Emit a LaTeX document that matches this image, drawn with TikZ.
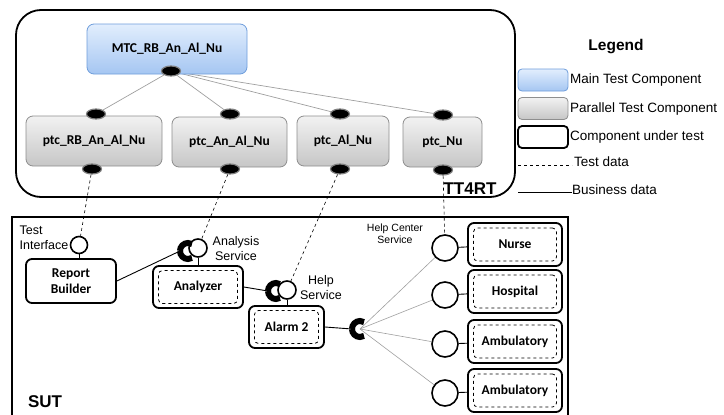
\documentclass[tikz,border=0pt]{standalone}
\usepackage{fontspec}
\setmainfont{Liberation Sans}
\newfontfamily\calib{Carlito}
\usetikzlibrary{shapes, positioning}
\usetikzlibrary{backgrounds}

\definecolor{mtcline}{HTML}{6E9DDB}
\definecolor{mtctop}{HTML}{E2EEFD}
\definecolor{mtcbot}{HTML}{A5C6F2}
\definecolor{ptcline}{HTML}{8E8E8E}
\definecolor{ptctop}{HTML}{F2F2F2}
\definecolor{ptcbot}{HTML}{C6C6C6}

\begin{document}
\begin{tikzpicture}[x=1pt, y=-1pt,
    boxfont/.style={font=\calib\bfseries\fontsize{13.5}{16}\selectfont},
    mtc/.style={draw=mtcline, top color=mtctop, bottom color=mtcbot, line width=0.8pt, rounded corners=7pt, minimum width=160pt, minimum height=50pt, boxfont},
    ptc/.style={draw=ptcline, top color=ptctop, bottom color=ptcbot, line width=0.8pt, rounded corners=7pt, minimum height=50pt, boxfont},
    port/.style={ellipse, fill=black, draw=gray, line width=1.2pt, minimum width=19pt, minimum height=10pt, inner sep=0pt},
    cut/.style={draw, fill=white, line width=1.8pt, rounded corners=6pt, align=center, boxfont},
    dashbox/.style={draw, dashed, line width=0.8pt, rounded corners=4pt, inner sep=0pt, boxfont},
    ball/.style={circle, draw, fill=white, line width=1.6pt, inner sep=0pt, minimum size=17pt},
    bigball/.style={ball, minimum size=26pt},
    socket/.style={line width=6pt},
    link/.style={gray!75, line width=0.7pt},
    testdata/.style={dashed, line width=0.6pt},
    business/.style={line width=0.9pt},
    lbl/.style={font=\fontsize{12.5}{15}\selectfont, align=center, inner sep=0pt},
    legtext/.style={font=\fontsize{13.5}{16}\selectfont, anchor=west, inner sep=0pt}]

            \useasboundingbox (0,0) rectangle (724,415);

            % TT4RT frame
            \node[draw, line width=1.8pt, rounded corners=25pt, minimum width=499pt, minimum height=187pt] (tt4rt) at (265.5,103.5) {};
            \node[font=\bfseries\fontsize{17}{19}\selectfont, inner sep=0pt] (tt4rt-lbl) at (470,189) {TT4RT};

            % test components
            \node[mtc] (mtc) at (167,49) {MTC\_RB\_An\_Al\_Nu};
            \node[ptc, minimum width=136pt] (ptc1) at (94,141) {ptc\_RB\_An\_Al\_Nu};
            \node[ptc, minimum width=115pt] (ptc2) at (229.5,142) {ptc\_An\_Al\_Nu};
            \node[ptc, minimum width=92pt] (ptc3) at (343,141) {ptc\_Al\_Nu};
            \node[ptc, minimum width=79pt] (ptc4) at (442.5,142) {ptc\_Nu};

            % ports
            \node[port] (mp) at (171,71) {};
            \node[port] (p1t) at (96,114) {};
            \node[port] (p2t) at (230,114) {};
            \node[port] (p3t) at (340,114) {};
            \node[port] (p4t) at (443,115) {};
            \node[port] (p1b) at (92,169) {};
            \node[port] (p2b) at (230,169) {};
            \node[port] (p3b) at (340,169) {};
            \node[port] (p4b) at (443,170) {};

            \begin{scope}[on background layer]
                \draw[link] (mp) -- (p1t);
                \draw[link] (mp) -- (p2t);
                \draw[link] (mp) -- (p3t);
                \draw[link] (mp) -- (p4t);
            \end{scope}

            % SUT frame
            \draw[line width=1.5pt] (12,416) -- (12,217) -- (568,217) -- (568,416);
            \node[font=\bfseries\fontsize{17}{19}\selectfont, inner sep=0pt] (sut) at (45,402) {SUT};

            % components under test
            \node[cut, minimum width=90pt, minimum height=44pt, inner sep=0pt] (rb) at (71,281) {Report\\Builder};
            \node[cut, minimum width=90pt, minimum height=42pt] (an) at (198,287) {};
            \node[dashbox, minimum width=79pt, minimum height=33pt] (an-in) at (an) {Analyzer};
            \node[cut, minimum width=75pt, minimum height=42pt] (al) at (286.5,327) {};
            \node[dashbox, minimum width=64pt, minimum height=33pt] (al-in) at (al) {Alarm 2};

            \node[cut, minimum width=94pt, minimum height=43pt] (nu) at (515,244.5) {};
            \node[dashbox, minimum width=83pt, minimum height=33pt] (nu-in) at (nu) {Nurse};
            \node[cut, minimum width=94pt, minimum height=43pt] (ho) at (515,291.5) {};
            \node[dashbox, minimum width=83pt, minimum height=33pt] (ho-in) at (ho) {Hospital};
            \node[cut, minimum width=94pt, minimum height=43pt] (am1) at (515,341.5) {};
            \node[dashbox, minimum width=83pt, minimum height=33pt] (am1-in) at (am1) {Ambulatory};
            \node[cut, minimum width=94pt, minimum height=43pt] (am2) at (515,390.5) {};
            \node[dashbox, minimum width=83pt, minimum height=33pt] (am2-in) at (am2) {Ambulatory};

            % provided interfaces
            \node[ball] (ti) at (79,245) {};
            \node[lbl, align=left] (ti-lbl) at (44,238) {Test\\Interface};
            \node[ball, minimum size=18pt] (as) at (198,248) {};
            \node[lbl] (as-lbl) at (236,249) {Analysis\\Service};
            \node[ball, minimum size=18pt] (hs) at (287,290) {};
            \node[lbl] (hs-lbl) at (321,288) {Help\\Service};
            \node[bigball] (b1) at (445,248) {};
            \node[bigball] (b2) at (445,295) {};
            \node[bigball] (b3) at (445,344) {};
            \node[bigball] (b4) at (445,393) {};
            \node[lbl, font=\fontsize{10.5}{12}\selectfont] (hc-lbl) at (395,234) {Help Center\\Service};

            % required interfaces
            \coordinate (sa) at (180,251);
            \coordinate (sh) at (268,291);
            \coordinate (sc) at (352,329);
            \coordinate (hub) at (360,329);
            \draw[socket] (sa) arc[start angle=180, end angle=60, radius=8pt];
            \draw[socket] (sa) arc[start angle=180, end angle=300, radius=8pt];
            \draw[socket] (sh) arc[start angle=180, end angle=60, radius=8pt];
            \draw[socket] (sh) arc[start angle=180, end angle=300, radius=8pt];
            \draw[socket] (sc) arc[start angle=180, end angle=60, radius=8pt];
            \draw[socket] (sc) arc[start angle=180, end angle=300, radius=8pt];

            % business data
            \draw[business] (ti.south) -- (ti.south |- rb.north);
            \draw[business] (as.south) -- (as.south |- an.north);
            \draw[business] (hs.south) -- (hs.south |- al.north);
            \draw[business] (rb.east) -- (sa);
            \draw[business] (an.east) -- (sh);
            \draw[business] (al.east) -- (sc);
            \draw[business] (b1) -- (nu);
            \draw[business] (b2) -- (ho);
            \draw[business] (b3) -- (am1);
            \draw[business] (b4) -- (am2);
            \draw[link, line width=0.6pt] (hub) -- (b1);
            \draw[link, line width=0.6pt] (hub) -- (b2);
            \draw[link, line width=0.6pt] (hub) -- (b3);
            \draw[link, line width=0.6pt] (hub) -- (b4);

            % test data
            \draw[testdata] (p1b) -- (ti);
            \draw[testdata] (p2b) -- (as);
            \draw[testdata] (p3b) -- (hs);
            \draw[testdata] (p4b) -- (b1);

            % Legend
            \node[font=\bfseries\fontsize{15.5}{18}\selectfont, inner sep=0pt] (leg) at (616,47) {Legend};
            \node[mtc, minimum width=50pt, minimum height=22pt, rounded corners=4pt] (leg-mtc) at (543,80) {};
            \node[ptc, minimum width=50pt, minimum height=22pt, rounded corners=4pt] (leg-ptc) at (543,108.5) {};
            \node[draw, line width=1.8pt, rounded corners=4pt, minimum width=50pt, minimum height=22pt] (leg-cut) at (543,137) {};
            \coordinate (leg-td1) at (518,165);
            \coordinate (leg-td2) at (572,165);
            \coordinate (leg-bd1) at (518,192);
            \coordinate (leg-bd2) at (572,192);
            \draw[testdata] (leg-td1) -- (leg-td2);
            \draw[business, line width=0.7pt] (leg-bd1) -- (leg-bd2);
            \node[legtext] (leg-mtc-t) at (570,80) {Main Test Component};
            \node[legtext] (leg-ptc-t) at (570,109) {Parallel Test Component};
            \node[legtext] (leg-cut-t) at (570,137) {Component under test};
            \node[legtext] (leg-td-t) at (574,162) {Test data};
            \node[legtext] (leg-bd-t) at (572,190) {Business data};

        \end{tikzpicture}
\end{document}
